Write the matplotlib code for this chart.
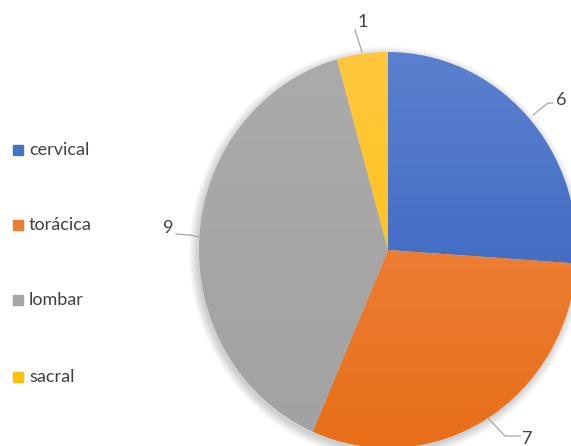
import numpy as np
import matplotlib.pyplot as plt
import matplotlib.colors as mcolors
from matplotlib.patches import Ellipse

categories = ["cervical", "torácica", "lombar", "sacral"]
values = [6, 7, 9, 1]
colors_top = ["#5B80CF", "#F18D4E", "#ABABAB", "#FFC83F"]
colors_bot = ["#2F5DBB", "#E86E18", "#A2A2A2", "#FFBF00"]
legend_colors = ["#4472C4", "#ED7D31", "#A5A5A5", "#FFC000"]

W, H = 571, 446
fig = plt.figure(figsize=(W / 100, H / 100), dpi=100)

# pie is slightly taller than wide in the reference
cx, cy, rx, ry = 388, 196, 189, 198
pax = fig.add_axes([(cx - rx - 20) / W, (cy - ry - 20) / H,
                    (2 * rx + 40) / W, (2 * ry + 40) / H])
k = 1 + 20 / rx
kv = 1 + 20 / ry

# soft shadow
for i in range(8):
    pax.add_patch(Ellipse((-0.01, -0.015), 2 + i * 0.012, 2 + i * 0.012,
                          color="black", alpha=0.025, lw=0, zorder=0))

wedges, _ = pax.pie(values, startangle=90, counterclock=False, radius=1,
                    colors=legend_colors)
for w, ct, cb in zip(wedges, colors_top, colors_bot):
    w.set_facecolor("none")
    w.set_zorder(2)
    cmap = mcolors.LinearSegmentedColormap.from_list("g", [cb, ct])
    grad = np.linspace(0, 1, 256).reshape(-1, 1)
    im = pax.imshow(grad, cmap=cmap, extent=[-1, 1, -1, 1],
                    origin="lower", aspect="auto", zorder=1)
    im.set_clip_path(w)
pax.set_xlim(-k, k)
pax.set_ylim(-kv, kv)
pax.set_aspect("auto")
pax.axis("off")

ax = fig.add_axes([0, 0, 1, 1])
ax.set_xlim(0, W)
ax.set_ylim(0, H)
ax.axis("off")

# data labels with leader lines
lab_pos = [(561, 346), (527, 7), (168, 218), (363, 424)]
lines = [[(533, 331), (548, 343), (553, 343)],
         [(488, 28), (505, 10), (520, 10)],
         [(176, 212), (190, 211), (199, 209)],
         [(362, 394), (355, 416)]]
for v, (lx, ly), ln in zip(values, lab_pos, lines):
    xs, ys = zip(*ln)
    ax.plot(xs, ys, color="#A6A6A6", lw=0.9, zorder=3)
    ax.text(lx, ly, str(v), fontsize=13, color="#404040", ha="center",
            va="center", family="Lato", zorder=4)

# legend
leg_y = [296, 221, 146, 69]
for name, c, y in zip(categories, legend_colors, leg_y):
    ax.add_patch(plt.Rectangle((13, y - 5), 10, 10, color=c, zorder=3))
    ax.text(29, y, name, fontsize=13, color="#404040", va="center",
            family="Lato", zorder=4)

fig.savefig("out.png", dpi=100)
